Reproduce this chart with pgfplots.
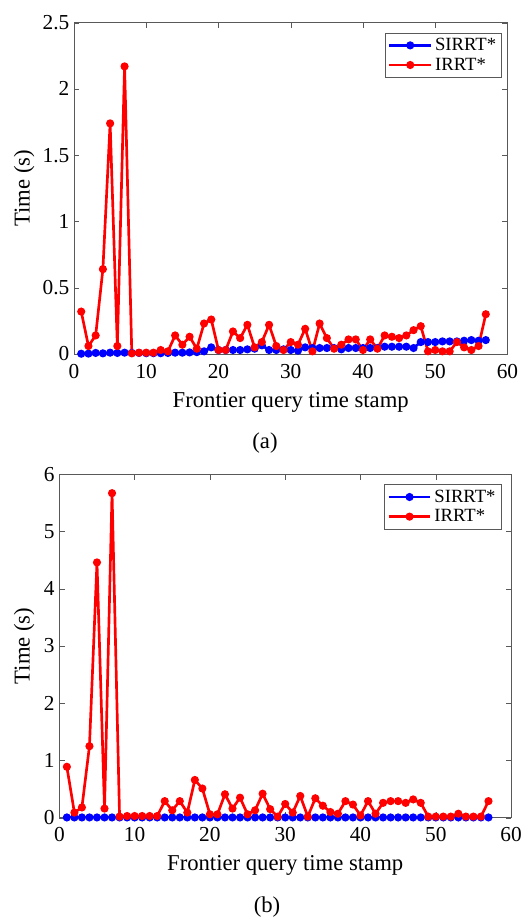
\documentclass[border=0pt]{standalone}
\usepackage{fontspec}
\setmainfont{Liberation Serif}
\usepackage{pgfplots}
\usepackage{pgfplotstable}
\pgfplotsset{compat=1.18}

% query timings, panel (a)
\pgfplotstableread{
x sirrt irrt
1 0.002 0.32
2 0.003 0.06
3 0.008 0.14
4 0.005 0.64
5 0.010 1.74
6 0.008 0.06
7 0.010 2.17
8 0.008 0.005
9 0.008 0.01
10 0.006 0.01
11 0.006 0.01
12 0.006 0.03
13 0.008 0.02
14 0.010 0.14
15 0.010 0.07
16 0.012 0.13
17 0.014 0.04
18 0.020 0.23
19 0.050 0.26
20 0.030 0.03
21 0.030 0.03
22 0.030 0.17
23 0.030 0.12
24 0.035 0.22
25 0.040 0.05
26 0.065 0.09
27 0.030 0.22
28 0.030 0.06
29 0.035 0.03
30 0.030 0.09
31 0.025 0.07
32 0.050 0.19
33 0.045 0.02
34 0.045 0.23
35 0.045 0.12
36 0.045 0.04
37 0.035 0.07
38 0.045 0.11
39 0.045 0.11
40 0.045 0.03
41 0.045 0.11
42 0.045 0.04
43 0.055 0.14
44 0.055 0.13
45 0.055 0.12
46 0.055 0.14
47 0.045 0.18
48 0.090 0.21
49 0.090 0.02
50 0.090 0.03
51 0.095 0.02
52 0.095 0.02
53 0.095 0.09
54 0.100 0.05
55 0.105 0.03
56 0.100 0.06
57 0.105 0.30
}\dataA

% query timings, panel (b)
\pgfplotstableread{
x sirrt irrt
1 0.005 0.89
2 0.005 0.09
3 0.005 0.18
4 0.005 1.25
5 0.005 4.46
6 0.005 0.16
7 0.005 5.67
8 0.005 0.02
9 0.005 0.03
10 0.005 0.03
11 0.005 0.03
12 0.005 0.03
13 0.005 0.03
14 0.005 0.29
15 0.005 0.13
16 0.005 0.29
17 0.005 0.09
18 0.005 0.66
19 0.005 0.51
20 0.005 0.06
21 0.005 0.06
22 0.005 0.41
23 0.005 0.16
24 0.005 0.35
25 0.005 0.06
26 0.005 0.13
27 0.005 0.42
28 0.005 0.15
29 0.005 0.02
30 0.005 0.24
31 0.005 0.09
32 0.005 0.38
33 0.005 0.02
34 0.005 0.34
35 0.005 0.21
36 0.005 0.10
37 0.005 0.07
38 0.005 0.29
39 0.005 0.23
40 0.005 0.04
41 0.005 0.29
42 0.005 0.07
43 0.005 0.26
44 0.005 0.29
45 0.005 0.29
46 0.005 0.26
47 0.005 0.32
48 0.005 0.26
49 0.005 0.02
50 0.005 0.02
51 0.005 0.02
52 0.005 0.02
53 0.005 0.07
54 0.005 0.02
55 0.005 0.02
56 0.005 0.02
57 0.005 0.29
}\dataB

\pgfplotsset{
  timeplot/.style={
    scale only axis,
    xmin=0, xmax=60,
    xtick={0,10,...,60},
    axis line style={black!65},
    tick style={black!65},
    major tick length=4pt,
    ymin=0,
    /pgf/number format/assume math mode=true,
    tick label style={font=\fontsize{16}{18}\selectfont},
    xticklabel style={yshift=-4pt},
    label style={font=\fontsize{17}{20}\selectfont},
    xlabel={Frontier query time stamp},
    ylabel={Time (s)},
    legend cell align=left,
    legend style={font=\fontsize{14}{17}\selectfont, draw=black!65,
      anchor=north east, inner sep=2pt, row sep=0pt},
    legend image code/.code={\draw[mark repeat=2,mark phase=2]
      plot coordinates {(0cm,0cm) (0.55cm,0cm) (1.1cm,0cm)};},
  },
  sirrt/.style={blue, line width=2pt, mark=*, mark size=2pt},
  irrt/.style={red, line width=2pt, mark=*, mark size=2pt},
}

\begin{document}
\begin{tikzpicture}
\path[use as bounding box] (0,0) rectangle (395.25pt,688.5pt);

\begin{axis}[timeplot,
  at={(55.5pt,423pt)}, anchor=south west,
  width=325.1pt, height=248.5pt,
  ymax=2.5, ytick={0,0.5,...,2.5},
  xlabel style={at={(axis description cs:0.5,-0.145)}, anchor=center},
  ylabel style={at={(axis description cs:-0.115,0.5)}, anchor=center},
  legend style={at={(0.987,0.97)}},
]
\addplot[sirrt] table[x=x, y=sirrt] {\dataA};
\addplot[irrt] table[x=x, y=irrt] {\dataA};
\legend{SIRRT*, IRRT*}
\end{axis}

\begin{axis}[timeplot,
  at={(44.5pt,75.2pt)}, anchor=south west,
  width=338.8pt, height=257.6pt,
  ymax=6, ytick={0,1,...,6},
  xlabel style={at={(axis description cs:0.5,-0.14)}, anchor=center},
  ylabel style={at={(axis description cs:-0.078,0.5)}, anchor=center},
  legend style={at={(0.978,0.971)}},
]
\addplot[sirrt] table[x=x, y=sirrt] {\dataB};
\addplot[irrt] table[x=x, y=irrt] {\dataB};
\legend{SIRRT*, IRRT*}
\end{axis}

\node[font=\fontsize{17}{20}\selectfont] at (198.75pt,356.25pt) {(a)};
\node[font=\fontsize{17}{20}\selectfont] at (200.25pt,8.25pt) {(b)};
\end{tikzpicture}
\end{document}
